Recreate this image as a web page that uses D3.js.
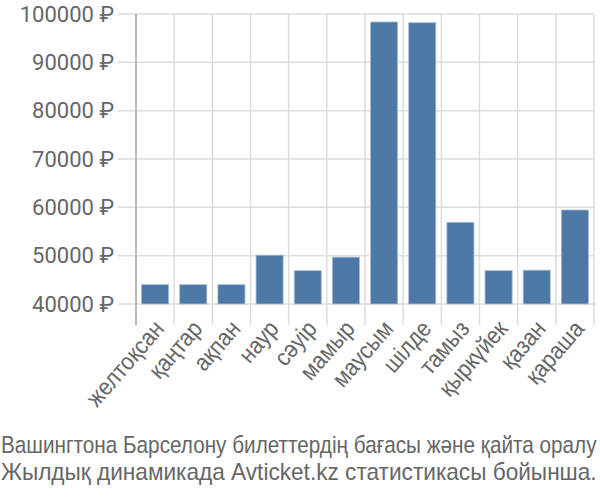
<!DOCTYPE html>
<html><head><meta charset="utf-8">
<script src="https://cdn.jsdelivr.net/npm/d3@7"></script>
<style>body{margin:0;background:#fff}</style>
</head><body>
<svg id="c" width="600" height="500"></svg>
<script>
const categories = ["желтоқсан","қаңтар","ақпан","наур","сәуір","мамыр","маусым","шілде","тамыз","қыркүйек","қазан","қараша"];
const prices = [44000,44000,44000,50100,46900,49700,98350,98200,56900,46900,47000,59450];
const yTicks = [40000,50000,60000,70000,80000,90000,100000];
const captionLines = ["Вашингтона Барселону билеттердің бағасы және қайта оралу","Жылдық динамикада Avticket.kz статистикасы бойынша."];

(function(){
const svg = d3.select("#c");
const pl = 136, pr = 594, pt = 14, pb = 304;
const x = d3.scaleBand().domain(categories).range([pl, pr]).paddingInner(0.29).paddingOuter(0.145);
const y = d3.scaleLinear().domain([40000, 100000]).range([pb, pt]);
const step = x.step();

svg.append("g").selectAll("line").data(yTicks).join("line")
  .attr("x1", pl - 18).attr("x2", pr)
  .attr("y1", d => y(d)).attr("y2", d => y(d))
  .attr("stroke", "#dddddd").attr("stroke-width", 1.5);
svg.append("g").selectAll("line").data(d3.range(categories.length + 1)).join("line")
  .attr("x1", i => pl + i * step).attr("x2", i => pl + i * step)
  .attr("y1", pt).attr("y2", pb + 21)
  .attr("stroke", "#dddddd").attr("stroke-width", 1.5);
svg.append("line").attr("x1", pl).attr("x2", pl).attr("y1", pt).attr("y2", pb + 21)
  .attr("stroke", "#aaaaaa").attr("stroke-width", 1.5);

svg.append("g").selectAll("rect").data(prices).join("rect")
  .attr("x", (d, i) => x(categories[i]))
  .attr("y", d => y(d))
  .attr("width", x.bandwidth())
  .attr("height", d => y(40000) - y(d))
  .attr("fill", "#4e79a7").attr("stroke", "#a8bdd6").attr("stroke-width", 0.8);

svg.append("g").selectAll("text").data(yTicks).join("text")
  .attr("x", 114).attr("y", d => y(d)).attr("dy", "0.35em")
  .attr("text-anchor", "end")
  .attr("font-family", "Roboto, 'Liberation Sans', sans-serif").attr("font-size", 22)
  .attr("fill", "#666666")
  .text(d => d + " ₽");

svg.append("g").selectAll("text").data(categories).join("text")
  .attr("transform", d => `translate(${x(d) + x.bandwidth() / 2 + 4},${pb + 20}) rotate(-49) scale(0.9,1)`)
  .attr("text-anchor", "end").attr("dy", "0.35em")
  .attr("font-family", "'Liberation Sans', Arial, sans-serif").attr("font-size", 24)
  .attr("fill", "#666666")
  .text(d => d);

svg.append("g").selectAll("text").data(captionLines).join("text")
  .attr("font-family", "'Liberation Sans', sans-serif").attr("font-size", 24)
  .attr("fill", "#666666")
  .text(d => d)
  .attr("transform", function(d, i) {
    const len = this.getComputedTextLength();
    const sx = Math.min(1, 596 / len);
    return `translate(1,${453 + i * 27}) scale(${sx},1)`;
  });
})();
</script>
</body></html>
